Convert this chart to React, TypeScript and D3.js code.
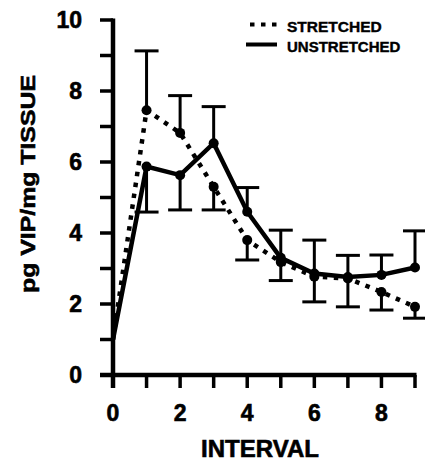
import React from "react";
import * as d3 from "d3";

const intervals = [0, 1, 2, 3, 4, 5, 6, 7, 8, 9];
const stretched = [1.0, 7.46, 6.82, 5.3, 3.8, 3.18, 2.77, 2.72, 2.34, 1.92];
const stretchedErrUp = [0, 1.67, 1.05, 0, 0, 0, 0, 0, 0, 0];
const stretchedErrDown = [0, 0, 0, 0.65, 0.56, 0.52, 0.71, 0.8, 0.51, 0.32];
const unstretched = [1.0, 5.87, 5.63, 6.53, 4.6, 3.3, 2.86, 2.76, 2.82, 3.03];
const unstretchedErrUp = [0, 0, 0, 1.03, 0.68, 0.78, 0.94, 0.61, 0.56, 1.03];
const unstretchedErrDown = [0, 1.28, 0.98, 0, 0, 0, 0, 0, 0, 0];
const yTickLabels = [0, 2, 4, 6, 8, 10];
const xTickLabels = [0, 2, 4, 6, 8];

const FONT = "'Liberation Sans', Arial, Helvetica, sans-serif";

export default function App() {
  const x = d3.scaleLinear().domain([0, 9]).range([113, 415]);
  const y = d3.scaleLinear().domain([0, 10]).range([375, 20]);
  const line = d3
    .line<number>()
    .x((_, i) => x(intervals[i]))
    .y((d) => y(d));

  const errBars = (vals: number[], up: number[], down: number[], key: string) =>
    vals.map((v, i) => {
      const out: React.ReactNode[] = [];
      const cx = x(intervals[i]);
      if (up[i] > 0) {
        out.push(
          <g key={key + "u" + i}>
            <line x1={cx} x2={cx} y1={y(v)} y2={y(v + up[i])} stroke="#000" strokeWidth={3} />
            <line x1={cx - 12} x2={cx + 12} y1={y(v + up[i])} y2={y(v + up[i])} stroke="#000" strokeWidth={3} />
          </g>
        );
      }
      if (down[i] > 0) {
        out.push(
          <g key={key + "d" + i}>
            <line x1={cx} x2={cx} y1={y(v)} y2={y(v - down[i])} stroke="#000" strokeWidth={3} />
            <line x1={cx - 12} x2={cx + 12} y1={y(v - down[i])} y2={y(v - down[i])} stroke="#000" strokeWidth={3} />
          </g>
        );
      }
      return out;
    });

  const yTicks = d3.range(0, 11);
  const xTicks = d3.range(0, 10);
  const heavy = { stroke: "#000", strokeWidth: 0.6 };

  return (
    <svg
      width={425}
      height={463}
      style={{ position: "absolute", left: 0, top: 0, background: "#fff" }}
      fontFamily={FONT}
    >
      <rect width={425} height={463} fill="#fff" />
      {/* Y axis */}
      <line x1={x(0)} x2={x(0)} y1={y(10) - 1.5} y2={388} stroke="#000" strokeWidth={4.5} />
      {yTicks.map((t) => (
        <line key={"yt" + t} x1={100} x2={x(0)} y1={y(t)} y2={y(t)} stroke="#000" strokeWidth={3.5} />
      ))}
      {yTickLabels.map((t) => (
        <text
          key={"yl" + t}
          x={82}
          y={y(t)}
          textAnchor="end"
          dominantBaseline="central"
          fontSize={23}
          fontWeight="bold"
          {...heavy}
        >
          {t}
        </text>
      ))}
      {/* X axis */}
      <line x1={100} x2={x(9) + 1.5} y1={y(0)} y2={y(0)} stroke="#000" strokeWidth={4.5} />
      {xTicks.map((t) => (
        <line key={"xt" + t} x1={x(t)} x2={x(t)} y1={y(0)} y2={388} stroke="#000" strokeWidth={3.5} />
      ))}
      {xTickLabels.map((t) => (
        <text key={"xl" + t} x={x(t)} y={421} textAnchor="middle" fontSize={23} fontWeight="bold" {...heavy}>
          {t}
        </text>
      ))}
      <text x={260} y={457} textAnchor="middle" fontSize={24} fontWeight="bold" {...heavy}>
        INTERVAL
      </text>
      <text
        transform="translate(35,184) rotate(-90)"
        textAnchor="middle"
        fontSize={21}
        fontWeight="bold"
        textLength={218}
        lengthAdjust="spacingAndGlyphs"
        {...heavy}
      >
        pg VIP/mg TISSUE
      </text>

      {/* Error bars */}
      {errBars(stretched, stretchedErrUp, stretchedErrDown, "s")}
      {errBars(unstretched, unstretchedErrUp, unstretchedErrDown, "n")}

      {/* Lines */}
      <path d={line(stretched) || ""} fill="none" stroke="#000" strokeWidth={4.5} strokeDasharray="4.5 6.5" />
      <path d={line(unstretched) || ""} fill="none" stroke="#000" strokeWidth={4.5} />

      {/* Markers */}
      {stretched.slice(1).map((v, i) => (
        <circle key={"sm" + i} cx={x(intervals[i + 1])} cy={y(v)} r={5} fill="#000" />
      ))}
      {unstretched.slice(1).map((v, i) => (
        <circle key={"nm" + i} cx={x(intervals[i + 1])} cy={y(v)} r={5} fill="#000" />
      ))}

      {/* Legend */}
      <line x1={250} x2={277} y1={24.5} y2={24.5} stroke="#000" strokeWidth={4} strokeDasharray="4.5 6.5" />
      <line x1={246} x2={277} y1={44.5} y2={44.5} stroke="#000" strokeWidth={4} />
      <text x={287} y={31.5} fontSize={15.5} fontWeight="bold" stroke="#000" strokeWidth={0.4}>
        STRETCHED
      </text>
      <text x={287} y={51.5} fontSize={15} fontWeight="bold" stroke="#000" strokeWidth={0.4}>
        UNSTRETCHED
      </text>
    </svg>
  );
}
